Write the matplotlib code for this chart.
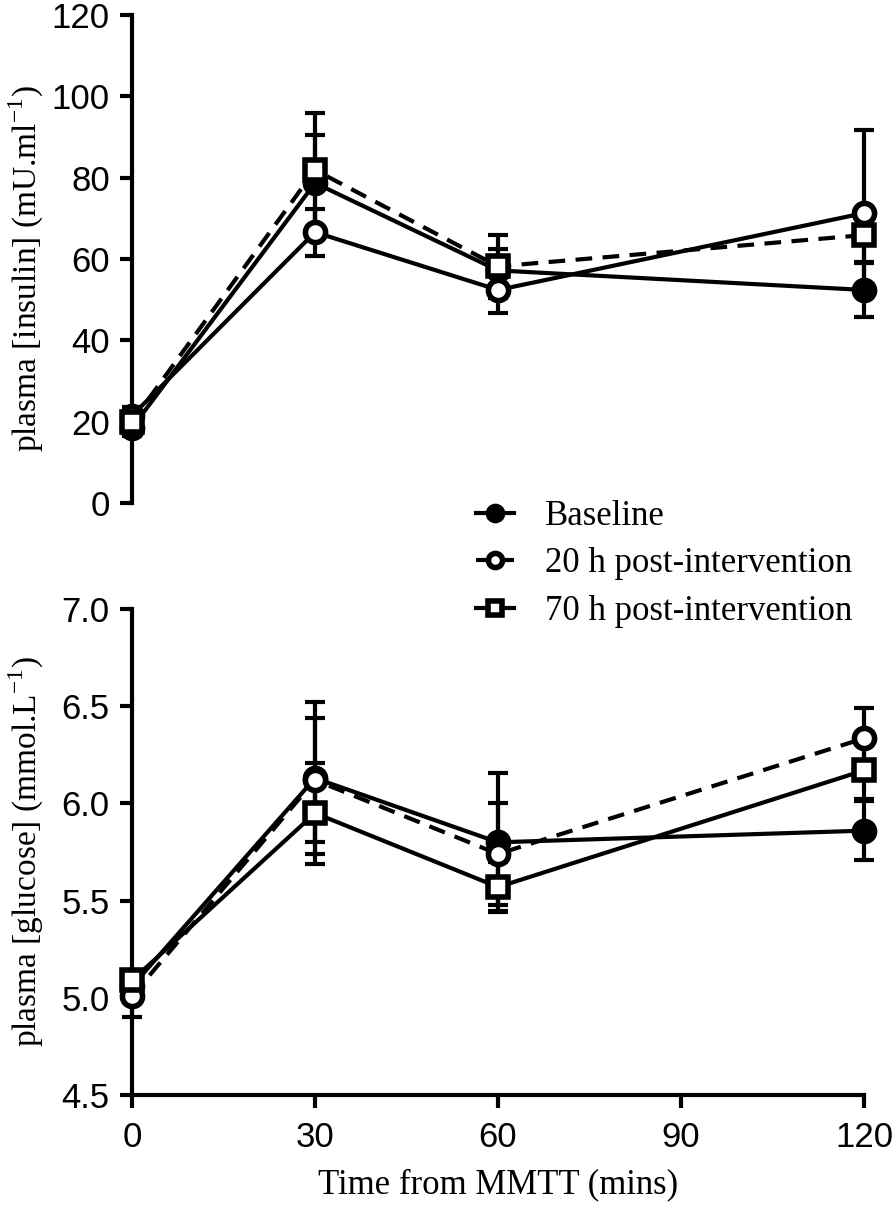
import numpy as np
import matplotlib
matplotlib.use("Agg")
import matplotlib.pyplot as plt

# MMTT time points (mins)
t = [0, 30, 60, 120]

# plasma insulin (mU/ml), mean and SEM
ins_base = [18.5, 78.7, 57.2, 52.4]
ins_base_err = [2.0, 11.8, 5.3, 6.7]
ins_20h = [21.5, 66.6, 52.4, 71.3]
ins_20h_err = [2.0, 5.8, 5.7, 20.4]
ins_70h = [20.0, 81.9, 58.2, 65.9]
ins_70h_err = [2.0, 14.0, 7.7, 6.6]

# plasma glucose (mmol/L), mean and SEM
glu_base = [5.06, 6.13, 5.80, 5.86]
glu_base_err = [0.06, 0.39, 0.355, 0.15]
glu_20h = [5.01, 6.12, 5.74, 6.335]
glu_20h_err = [0.11, 0.32, 0.26, 0.155]
glu_70h = [5.09, 5.95, 5.57, 6.17]
glu_70h_err = [0.05, 0.26, 0.13, 0.145]

labels = ["Baseline", "20 h post-intervention", "70 h post-intervention"]

plt.rcParams["font.family"] = "Liberation Sans"
plt.rcParams["mathtext.fontset"] = "custom"
plt.rcParams["mathtext.rm"] = "Liberation Serif"

SERIF = "Liberation Serif"
LW = 3.0
DASH = (0, (4, 2.5))

fig = plt.figure(figsize=(8.94, 12.06), dpi=100)
ax1 = fig.add_axes([0.1477, 0.5829, 0.8188, 0.4046])
ax2 = fig.add_axes([0.1477, 0.0920, 0.8188, 0.4030])


def draw(ax, ys, errs, styles):
    handles = []
    for y, e, (mk, face, ls) in zip(ys, errs, styles):
        ax.errorbar(t, y, yerr=e, fmt="none", ecolor="black", elinewidth=LW,
                    capsize=7, capthick=LW, clip_on=False, zorder=2)
        h, = ax.plot(t, y, linestyle=ls, color="black", linewidth=LW,
                     marker=mk, markersize=14.5, markerfacecolor=face,
                     markeredgecolor="black", markeredgewidth=4,
                     clip_on=False, zorder=3)
        handles.append(h)
    return handles


# top panel: as drawn in the figure, the dashed line runs through the squares
draw(ax1, [ins_base, ins_20h, ins_70h], [ins_base_err, ins_20h_err, ins_70h_err],
     [("o", "black", "-"), ("o", "white", "-"), ("s", "white", DASH)])
hs = draw(ax2, [glu_base, glu_20h, glu_70h], [glu_base_err, glu_20h_err, glu_70h_err],
          [("o", "black", "-"), ("o", "white", DASH), ("s", "white", "-")])

for ax in (ax1, ax2):
    ax.set_xlim(0, 120)
    for s in ("top", "right"):
        ax.spines[s].set_visible(False)
    for s in ("left", "bottom"):
        ax.spines[s].set_linewidth(3)
    ax.tick_params(axis="both", direction="out", length=9, width=3,
                   labelsize=25, pad=7)

ax1.spines["bottom"].set_visible(False)
ax1.set_xticks([])
ax1.set_ylim(0, 120)
ax1.set_yticks(np.arange(0, 121, 20))
ax1.set_ylabel("plasma [insulin] (mU.ml$^{-1}$)", family=SERIF, fontsize=24)
ax1.yaxis.set_label_coords(-0.118, 0.48)

ax2.set_ylim(4.5, 7.0)
ax2.set_yticks(np.arange(4.5, 7.01, 0.5))
ax2.set_yticklabels([f"{v:.1f}" for v in np.arange(4.5, 7.01, 0.5)])
ax2.set_xticks([0, 30, 60, 90, 120])
ax2.tick_params(axis="x", pad=10)
ax2.set_ylabel("plasma [glucose] (mmol.L$^{-1}$)", family=SERIF, fontsize=24)
ax2.yaxis.set_label_coords(-0.118, 0.5)
ax2.set_xlabel("Time from MMTT (mins)", family=SERIF, fontsize=25, labelpad=10)

# legend uses the glucose panel styles (dashed = 20 h)
fig.legend(hs, labels, loc="upper left", bbox_to_anchor=(0.497, 0.6115),
           frameon=False, prop={"family": SERIF, "size": 25},
           handlelength=1.1, handletextpad=0.9, labelspacing=0.42,
           markerscale=0.7)

fig.savefig("out.png", dpi=100)
